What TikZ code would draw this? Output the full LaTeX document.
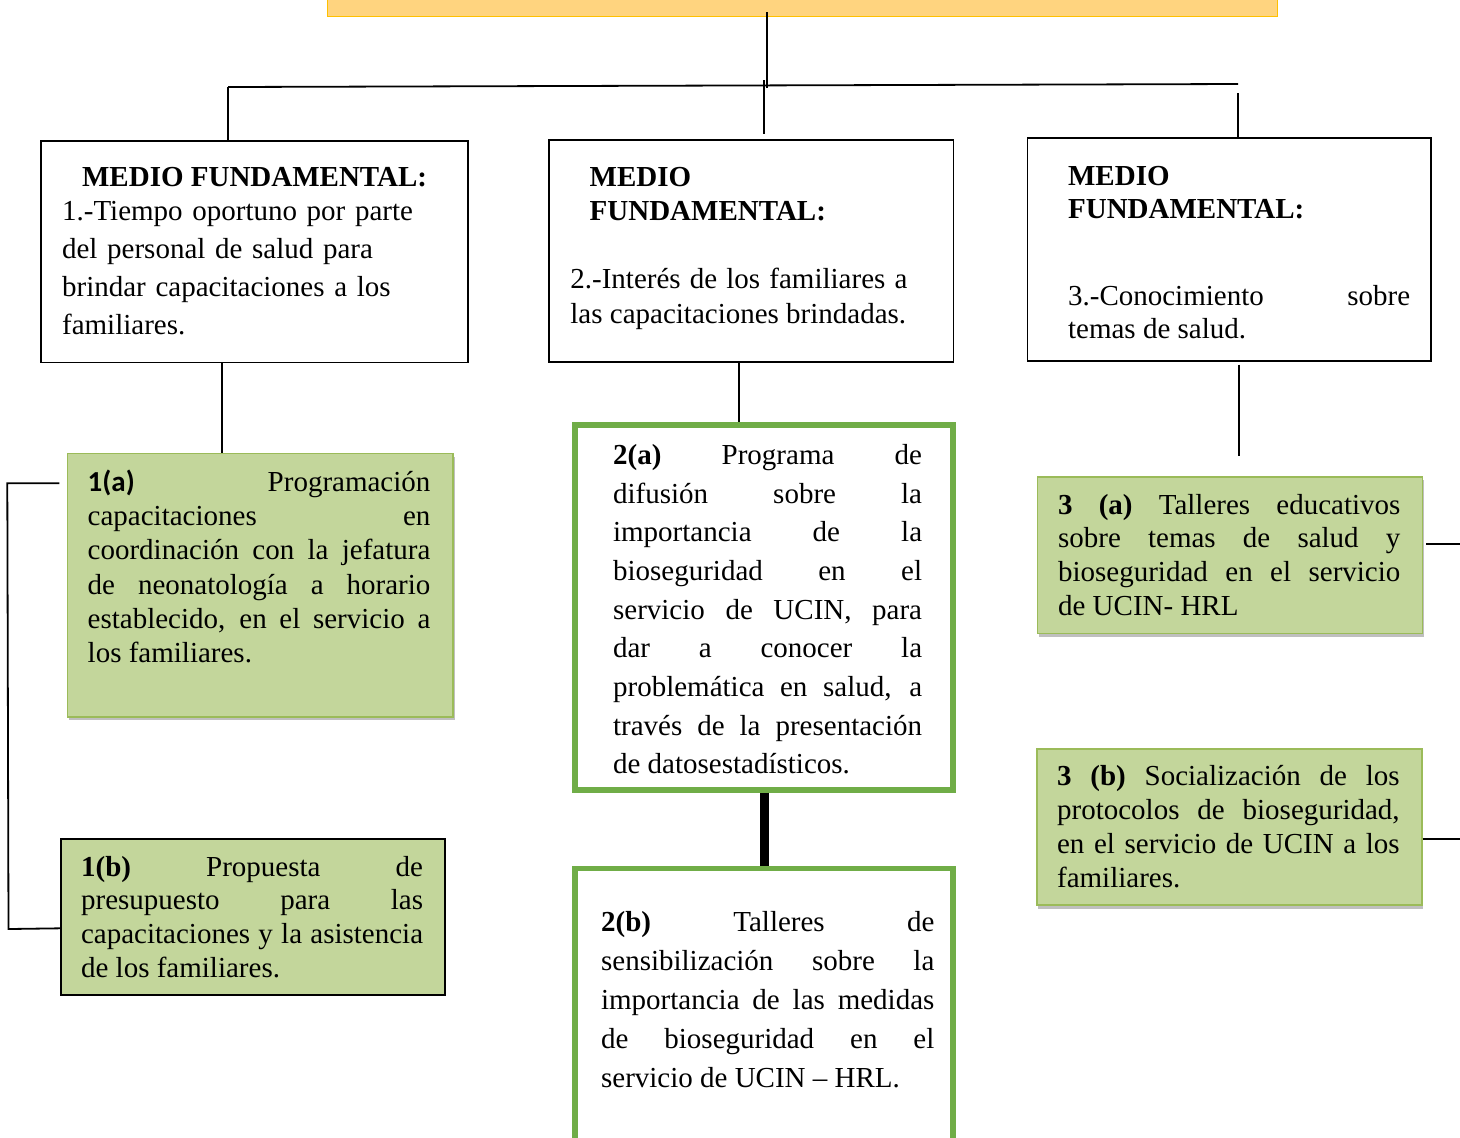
\documentclass[tikz,border=0pt]{standalone}
\usepackage{fontspec}
\setmainfont{Liberation Serif}
\newfontfamily\calibrifont{Carlito}
\usepackage{tikz}
\usetikzlibrary{calc,shadows}
\definecolor{goalFill}{HTML}{FFD47F}
\definecolor{goalLine}{HTML}{FFC000}
\definecolor{oliveFill}{HTML}{C3D69B}
\definecolor{oliveLine}{HTML}{9BBB59}
\definecolor{frameGreen}{HTML}{70AD47}
\newcommand{\boxpar}{\tolerance=10000\hbadness=10000\hyphenpenalty=10000\exhyphenpenalty=10000\relax}
\tikzset{
  goalBox/.style={draw=goalLine, fill=goalFill, line width=0.6pt, inner sep=0pt, anchor=north west},
  medioBox/.style={draw=black, fill=white, line width=0.75pt, inner sep=0pt, anchor=north west},
  oliveBox/.style={draw=oliveLine, fill=oliveFill, line width=0.75pt, inner sep=0pt, anchor=north west,
    drop shadow={shadow xshift=0.8pt, shadow yshift=-1.8pt, opacity=0.25, fill=black}},
  olivePlain/.style={draw=black, fill=oliveFill, line width=1pt, inner sep=0pt, anchor=north west},
  frameBox/.style={draw=frameGreen, fill=white, line width=2.65pt, inner sep=0pt, anchor=north west},
  headLbl/.style={inner sep=0pt, anchor=base west, align=left, font=\fontsize{14.5}{#1}\selectfont\bfseries},
  headLbl/.default=17pt,
  bodyLbl/.style={inner sep=0pt, anchor=base west, align=justify, font=\fontsize{14.5}{#1}\selectfont\boxpar},
  bodyLbl/.default=17pt,
  link/.style={draw=black, line width=0.9pt},
  thickLink/.style={draw=black, line width=4.5pt},
}

\begin{document}
\begin{tikzpicture}[x=0.5pt, y=-0.5pt]
  \useasboundingbox (0,0) rectangle (1460,1137);

  % objetivo (cortado arriba)
  \node[goalBox, minimum width=475pt, minimum height=18pt] (goal) at (327,-20) {};

  % medios fundamentales
  \node[medioBox, minimum width=213.5pt, minimum height=110.85pt] (m1) at (40,140) {};
  \node[medioBox, minimum width=202.2pt, minimum height=110.85pt] (m2) at (548.3,139.3) {};
  \node[medioBox, minimum width=201.65pt, minimum height=111.35pt] (m3) at (1026.7,137.3) {};

  \node[headLbl] (m1h) at (81.7,186) {MEDIO FUNDAMENTAL:};
  \node[bodyLbl=19.15pt, align=left, text width=200pt] (m1b) at (61.7,220)
    {1.-Tiempo oportuno por parte\\del personal de salud para\\brindar capacitaciones a los\\familiares.};

  \node[headLbl=17pt, text width=160pt] (m2h) at (589.3,186.7) {MEDIO\\FUNDAMENTAL:};
  \node[bodyLbl=17.5pt, text width=168.5pt] (m2b) at (570,288)
    {2.-Interés de los familiares  a\linebreak las capacitaciones brindadas.};

  \node[headLbl=16.65pt, text width=160pt] (m3h) at (1067.7,185) {MEDIO\\FUNDAMENTAL:};
  \node[bodyLbl=16.65pt, text width=171pt] (m3b) at (1067.7,305)
    {3.-Conocimiento sobre\linebreak temas de salud.};

  % propuestas
  \node[oliveBox, minimum width=192.8pt, minimum height=131.65pt] (p1a) at (66.7,452.7) {};
  \node[olivePlain, minimum width=192.15pt, minimum height=78pt] (p1b) at (60,838.3) {};
  \node[frameBox, minimum width=189pt, minimum height=182.5pt] (p2a) at (572.3,422.3) {};
  \node[frameBox, minimum width=189pt, minimum height=150pt] (p2b) at (572.3,865.7) {};
  \node[oliveBox, minimum width=192.5pt, minimum height=78.35pt] (p3a) at (1036.7,476) {};
  \node[oliveBox, minimum width=192.5pt, minimum height=78pt] (p3b) at (1036,748.3) {};

  \node[bodyLbl=17.1pt, text width=171.35pt] (t1a) at (87.3,491.5)
    {{\calibrifont\bfseries 1(a)} Programación\linebreak capacitaciones en\linebreak
     coordinación con la jefatura\linebreak de neonatología a horario\linebreak
     establecido,  en el servicio a\linebreak los familiares.};
  \node[bodyLbl=16.9pt, text width=171pt] (t1b) at (80.7,876)
    {\textbf{1(b)} Propuesta de\linebreak presupuesto para las\linebreak
     capacitaciones y la asistencia\linebreak de los familiares.};
  \node[bodyLbl=19.33pt, text width=154.5pt] (t2a) at (612.7,464.5)
    {\textbf{2(a)} Programa de\linebreak difusión sobre la\linebreak importancia de la\linebreak
     bioseguridad en el\linebreak servicio de UCIN, para\linebreak dar a conocer la\linebreak
     problemática en salud, a\linebreak través de la presentación\linebreak de datosestadísticos.};
  \node[bodyLbl=19.5pt, text width=166.65pt] (t2b) at (600.7,931.7)
    {\textbf{2(b)} Talleres de\linebreak sensibilización sobre la\linebreak
     importancia de las medidas\linebreak de bioseguridad en el\linebreak servicio de UCIN – HRL.};
  \node[bodyLbl=16.95pt, text width=171.15pt] (t3a) at (1057.7,514)
    {\textbf{3 (a)} Talleres educativos\linebreak sobre temas de salud y\linebreak
     bioseguridad en el servicio\linebreak de UCIN- HRL};
  \node[bodyLbl=17pt, text width=171.3pt] (t3b) at (1056.7,785.5)
    {\textbf{3 (b)} Socialización de los\linebreak protocolos de bioseguridad,\linebreak
     en el servicio de UCIN  a los\linebreak familiares.};

  % conectores
  \coordinate (hub) at (767,88);
  \coordinate (busL) at (228,87);
  \coordinate (busR) at (1238,84);
  \coordinate (drop2) at (764,80);
  \coordinate (drop3) at (1238,93);
  \coordinate (v1) at (222.3,0);
  \coordinate (v2) at (739,0);
  \coordinate (v2b) at (764.5,0);
  \coordinate (v3) at (1239,456);
  \coordinate (brA) at (7.3,483.3);
  \coordinate (brB) at (8.5,929);
  \coordinate (out3a) at (1470,544);
  \coordinate (out3b) at (1470,839);

  \draw[link] ($(goal.south -| hub)+(0,-5)$) -- (hub);
  \draw[link] (busL) -- (busR);
  \draw[link] (busL) -- (busL |- m1.north);
  \draw[link] (drop2) -- ($(m2.north -| drop2)+(0,-5)$);
  \draw[link] (drop3) -- (drop3 |- m3.north);

  \draw[link] (m1.south -| v1) -- (p1a.north -| v1);
  \draw[link] (m2.south -| v2) -- (p2a.north -| v2);
  \draw[thickLink] (p2a.south -| v2b) -- (p2b.north -| v2b);
  \draw[link] ($(m3.south -| v3)+(0,3)$) -- (v3);

  \draw[link] ($(p1a.west |- brA)+(-7.4,0)$) -- (brA) -- (brB) -- ($(p1b.west)+(0,11)$);
  \draw[link] ($(p3a.east |- out3a)+(3,0)$) -- (out3a);
  \draw[link] (p3b.east |- out3b) -- (out3b);
\end{tikzpicture}
\end{document}
